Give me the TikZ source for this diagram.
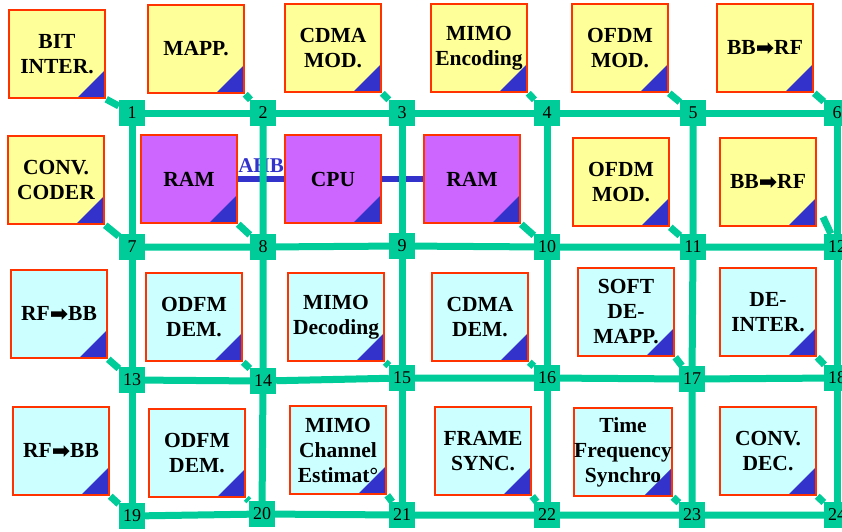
\documentclass[tikz,border=0pt]{standalone}
\usepackage{fontspec}
\setmainfont{Liberation Serif}
\newfontfamily\arrowfont{DejaVu Sans}
\usepackage{tikz}
\usetikzlibrary{backgrounds}

\definecolor{noc}{RGB}{0,204,153}
\definecolor{pered}{RGB}{255,51,0}
\definecolor{txyellow}{RGB}{255,255,153}
\definecolor{rxcyan}{RGB}{204,255,255}
\definecolor{cpupurple}{RGB}{204,102,255}
\definecolor{ahbblue}{RGB}{51,51,204}

\newcommand{\rarr}{{\arrowfont\fontsize{22}{22}\selectfont\raisebox{-0.5pt}{\symbol{"27A1}}}}

\begin{document}
\begin{tikzpicture}[x=1pt,y=-1pt,
    router/.style={fill=noc, minimum size=26pt, inner sep=0pt, font=\fontsize{18}{18}\selectfont},
    link/.style={draw=noc, line width=7pt},
    bus/.style={draw=ahbblue, line width=6pt},
    pe/.style={draw=pered, line width=2.5pt, minimum width=96pt, minimum height=88pt,
        inner sep=0pt, align=center, font=\bfseries\fontsize{21.5}{25}\selectfont,
        path picture={\fill[ahbblue] (path picture bounding box.south east)
            -- ++(-28pt,0pt) -- ++(28pt,28pt) -- cycle;}},
    tx/.style={pe, fill=txyellow},
    rx/.style={pe, fill=rxcyan},
    mem/.style={pe, fill=cpupurple}]
            \useasboundingbox (0,0) rectangle (842,531);
            \clip (0,0) rectangle (842,531);

            % routers
            \node[router] (1) at (132,113) {1};
            \node[router] (2) at (263,113) {2};
            \node[router] (3) at (402,113) {3};
            \node[router] (4) at (547,113) {4};
            \node[router] (5) at (693,113) {5};
            \node[router] (6) at (837,113) {6};
            \node[router] (7) at (132,247) {7};
            \node[router] (8) at (263,247) {8};
            \node[router] (9) at (402,246) {9};
            \node[router] (10) at (547,247) {10};
            \node[router] (11) at (693,247) {11};
            \node[router] (12) at (837,247) {12};
            \node[router] (13) at (132,380) {13};
            \node[router] (14) at (263,381) {14};
            \node[router] (15) at (402,378) {15};
            \node[router] (16) at (547,378) {16};
            \node[router] (17) at (692,379) {17};
            \node[router] (18) at (837,378) {18};
            \node[router] (19) at (132,516) {19};
            \node[router] (20) at (262,514) {20};
            \node[router] (21) at (402,515) {21};
            \node[router] (22) at (547,515) {22};
            \node[router] (23) at (692,515) {23};
            \node[router] (24) at (837,515) {24};

            % processing elements
            \node[tx] (bitint) at (57,54) {BIT\\INTER.};
            \node[tx] (mapp) at (196,49) {MAPP.};
            \node[tx] (cdmamod) at (333,48) {CDMA\\MOD.};
            \node[tx] (mimoenc) at (479,48) {MIMO\\Encoding};
            \node[tx] (ofdmmod) at (620,48) {OFDM\\MOD.};
            \node[tx] (bbrf) at (765,48) {BB\rarr RF};
            \node[tx] (convcod) at (56,180) {CONV.\\CODER};
            \node[mem] (ram1) at (189,179) {RAM};
            \node[mem] (cpu) at (333,179) {CPU};
            \node[mem] (ram2) at (472,179) {RAM};
            \node[tx] (ofdmmod2) at (621,182) {OFDM\\MOD.};
            \node[tx] (bbrf2) at (768,182) {BB\rarr RF};
            \node[rx] (rfbb) at (59,314) {RF\rarr BB};
            \node[rx] (odfmdem) at (194,317) {ODFM\\DEM.};
            \node[rx] (mimodec) at (336,317) {MIMO\\Decoding};
            \node[rx] (cdmadem) at (480,317) {CDMA\\DEM.};
            \node[rx] (softdemapp) at (626,312) {SOFT\\DE-\\MAPP.};
            \node[rx] (deinter) at (768,312) {DE-\\INTER.};
            \node[rx] (rfbb2) at (61,451) {RF\rarr BB};
            \node[rx] (odfmdem2) at (197,453) {ODFM\\DEM.};
            \node[rx] (mimochan) at (338,450) {MIMO\\Channel\\Estimat°};
            \node[rx] (framesync) at (483,451) {FRAME\\SYNC.};
            \node[rx] (tfsynch) at (623,452) {Time\\Frequency\\Synchro};
            \node[rx] (convdec) at (768,451) {CONV.\\DEC.};

            \coordinate (c12) at (823,217);

            \begin{pgfonlayer}{background}
            \node[anchor=base, text=ahbblue, inner sep=0pt,
                font=\bfseries\fontsize{21}{21}\selectfont] (ahb) at (261,172) {AHB};
            \draw[bus] (ram1.east) -- (cpu.west);
            \draw[bus] (cpu.east) -- (ram2.west);

            % mesh links
            \draw[link] (1) -- (2) -- (3) -- (4) -- (5) -- (6);
            \draw[link] (7) -- (8) -- (9) -- (10) -- (11) -- (12);
            \draw[link] (13) -- (14) -- (15) -- (16) -- (17) -- (18);
            \draw[link] (19) -- (20) -- (21) -- (22) -- (23) -- (24);
            \draw[link] (1) -- (7) -- (13) -- (19);
            \draw[link] (2) -- (8) -- (14) -- (20);
            \draw[link] (3) -- (9) -- (15) -- (21);
            \draw[link] (4) -- (10) -- (16) -- (22);
            \draw[link] (5) -- (11) -- (17) -- (23);
            \draw[link] (6) -- (12) -- (18) -- (24);

            % local links
            \draw[link] (bitint.south east) -- (1);
            \draw[link] (mapp.south east) -- (2);
            \draw[link] (cdmamod.south east) -- (3);
            \draw[link] (mimoenc.south east) -- (4);
            \draw[link] (ofdmmod.south east) -- (5);
            \draw[link] (bbrf.south east) -- (6);
            \draw[link] (convcod.south east) -- (7);
            \draw[link] (ram1.south east) -- (8);
            \draw[link] (ram2.south east) -- (10);
            \draw[link] (ofdmmod2.south east) -- (11);
            \draw[link] (c12) -- (12);
            \draw[link] (rfbb.south east) -- (13);
            \draw[link] (odfmdem.south east) -- (14);
            \draw[link] (mimodec.south east) -- (15);
            \draw[link] (cdmadem.south east) -- (16);
            \draw[link] (softdemapp.south east) -- (17);
            \draw[link] (deinter.south east) -- (18);
            \draw[link] (rfbb2.south east) -- (19);
            \draw[link] (odfmdem2.south east) -- (20);
            \draw[link] (mimochan.south east) -- (21);
            \draw[link] (framesync.south east) -- (22);
            \draw[link] (tfsynch.south east) -- (23);
            \draw[link] (convdec.south east) -- (24);
            \end{pgfonlayer}
        \end{tikzpicture}
\end{document}
